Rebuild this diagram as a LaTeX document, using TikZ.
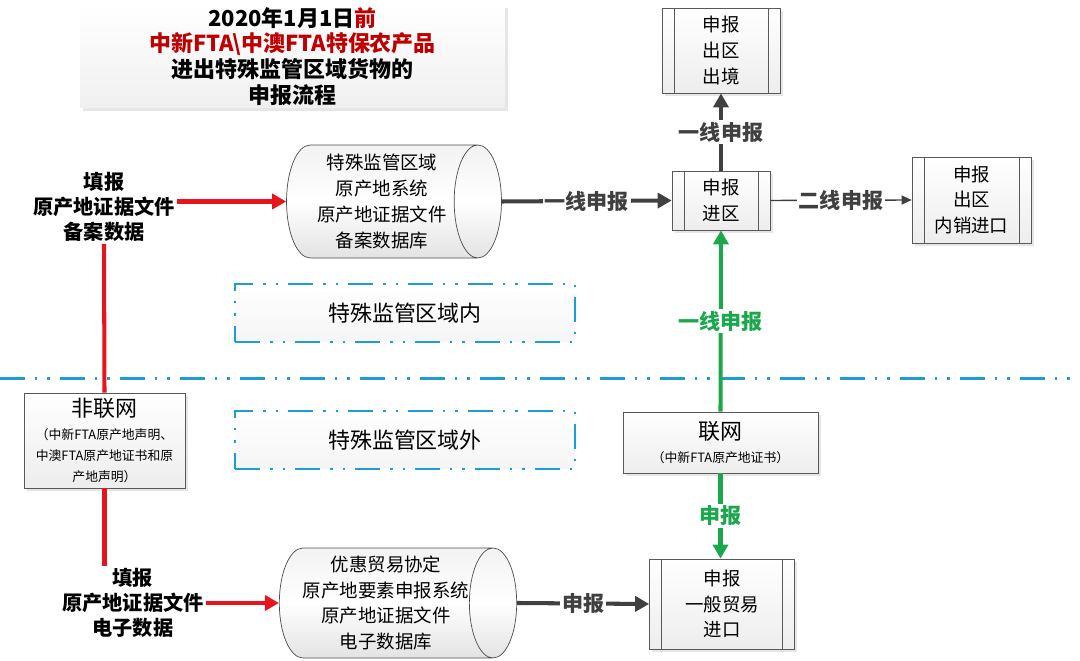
\documentclass[tikz,border=0pt]{standalone}
\usepackage{fontspec}
\setmainfont{Noto Sans CJK SC}
\usetikzlibrary{arrows.meta,positioning,shapes.geometric,shadows}
\definecolor{fillred}{HTML}{E8141C}
\definecolor{netgreen}{HTML}{1BA84C}
\definecolor{flowdark}{HTML}{404040}
\definecolor{zoneblue}{HTML}{1E9DD2}
\definecolor{titlered}{HTML}{C00000}
\newcommand{\procbar}{0.24cm}
\newcommand{\smalltxt}{\fontsize{7.3}{10}\selectfont}

\begin{document}
\begin{tikzpicture}[
    x=0.02cm,y=-0.02cm,
    proc/.style={draw=gray!70!black,top color=white,bottom color=gray!14,align=center,inner sep=0pt,
      font=\fontsize{10.5}{14.7}\selectfont,
      drop shadow={opacity=0.2,shadow xshift=1.5pt,shadow yshift=-1.5pt},
      path picture={\draw[gray!70!black]
        ([xshift=\procbar]path picture bounding box.north west) -- ([xshift=\procbar]path picture bounding box.south west)
        ([xshift=-\procbar]path picture bounding box.north east) -- ([xshift=-\procbar]path picture bounding box.south east);}},
    db/.style={cylinder,draw=gray!60!black,aspect=0.5,top color=gray!10,bottom color=gray!22,middle color=white,
      align=center,inner sep=0pt,font=\fontsize{10.5}{14.7}\selectfont},
    net/.style={draw=gray!70!black,top color=white,bottom color=gray!14,align=center,inner sep=0pt,
      drop shadow={opacity=0.2,shadow xshift=1.5pt,shadow yshift=-1.5pt}},
    zone/.style={draw=zoneblue,line width=1.6pt,dash pattern={on 0.5cm off 0.2cm on 0.05cm off 0.2cm on 0.05cm off 0.2cm},
      top color=white,bottom color=gray!8,minimum width=6.8cm,minimum height=1.16cm,font=\fontsize{12.5}{15}\selectfont},
    divider/.style={zoneblue,line width=1.7pt,dash pattern={on 0.5cm off 0.2cm on 0.05cm off 0.2cm on 0.05cm off 0.2cm}},
    note/.style={align=center,inner sep=1pt,font=\bfseries\fontsize{11.5}{14.3}\selectfont},
    lbl/.style={fill=white,inner sep=1pt,font=\bfseries\fontsize{12}{14}\selectfont},
    arrow/.style={-{Triangle[length=0.28cm,width=0.3cm]},line width=2.3pt,flowdark},
    thinarrow/.style={-{Triangle[length=0.2cm,width=0.18cm]},line width=0.8pt,flowdark},
    redarrow/.style={-{Triangle[length=0.28cm,width=0.3cm]},line width=2.3pt,fillred},
    redline/.style={line width=2.3pt,fillred},
    greenarrow/.style={-{Triangle[length=0.28cm,width=0.3cm]},line width=2.3pt,netgreen}
  ]
    \useasboundingbox (0,0) rectangle (1080,661);
    \node[net,minimum width=8.5cm,minimum height=2.06cm,top color=white,bottom color=gray!12,draw=none,
      font=\bfseries\fontsize{12.5}{14.7}\selectfont] (title) at (292.5,56.5)
      {2020年1月1日\textcolor{titlered}{前}\\\textcolor{titlered}{中新FTA\textbackslash 中澳FTA特保农产品}\\进出特殊监管区域货物的\\申报流程};
    \node[proc,minimum width=2.36cm,minimum height=1.7cm] (exit) at (721,50.5) {申报\\出区\\出境};
    \node[proc,minimum width=1.96cm,minimum height=1.18cm] (enter) at (721,200.5) {申报\\进区};
    \node[proc,minimum width=2.38cm,minimum height=1.72cm] (domestic) at (971.5,200) {申报\\出区\\内销进口};
    \node[proc,minimum width=2.9cm,minimum height=1.8cm] (trade) at (722,604) {申报\\一般贸易\\进口};
    \node[db,minimum height=4.3cm,minimum width=2.26cm] (zonedb) at (382,201.5) {特殊监管区域\\原产地系统\\原产地证据文件\\备案数据库};
    \node[db,minimum height=4.3cm,minimum width=2.2cm] (tradedb) at (386,603) {优惠贸易协定\\原产地要素申报系统\\原产地证据文件\\电子数据库};
    \node[note] (filezone) at (104,207) {填报\\原产地证据文件\\备案数据};
    \node[note] (filetrade) at (133,603) {填报\\原产地证据文件\\电子数据};
    \node[net,minimum width=3.22cm,minimum height=1.9cm] (offline) at (104.5,440.5)
      {\fontsize{12.5}{15}\selectfont 非联网\\[1pt]\smalltxt （中新FTA原产地声明、\\\smalltxt 中澳FTA原产地证书和原\\\smalltxt 产地声明）};
    \node[net,minimum width=3.9cm,minimum height=1.22cm] (online) at (720.5,442.5)
      {\fontsize{12.5}{15}\selectfont 联网\\[1pt]\smalltxt （中新FTA原产地证书）};
    \node[zone] (inside) at (405,313) {特殊监管区域内};
    \node[zone] (outside) at (405,440) {特殊监管区域外};
    \coordinate (divleft) at (0,379);
    \coordinate (divright) at (1080,379);
    \draw[divider] (divleft) -- (divright);
    \draw[redarrow] (filezone.east |- zonedb.west) -- (zonedb.west);
    \draw[redarrow] (filetrade.east |- tradedb.west) -- (tradedb.west);
    \draw[redline] (filezone.south) -- (offline.north);
    \draw[redline] (offline.south) -- (filetrade.north -| offline.south);
    \draw[arrow] (zonedb.east) -- node[lbl] {一线申报} (enter.west);
    \draw[arrow] (enter.north) -- node[lbl] {一线申报} (exit.south);
    \draw[thinarrow] (enter.east) -- node[lbl] {二线申报} (domestic.west);
    \draw[arrow] (tradedb.east) -- node[lbl] {申报} (trade.west);
    \draw[greenarrow] (online.north) -- node[lbl] {一线申报} (enter.south);
    \draw[greenarrow] (online.south) -- node[lbl] {申报} (online.south |- trade.north);
  \end{tikzpicture}
\end{document}
